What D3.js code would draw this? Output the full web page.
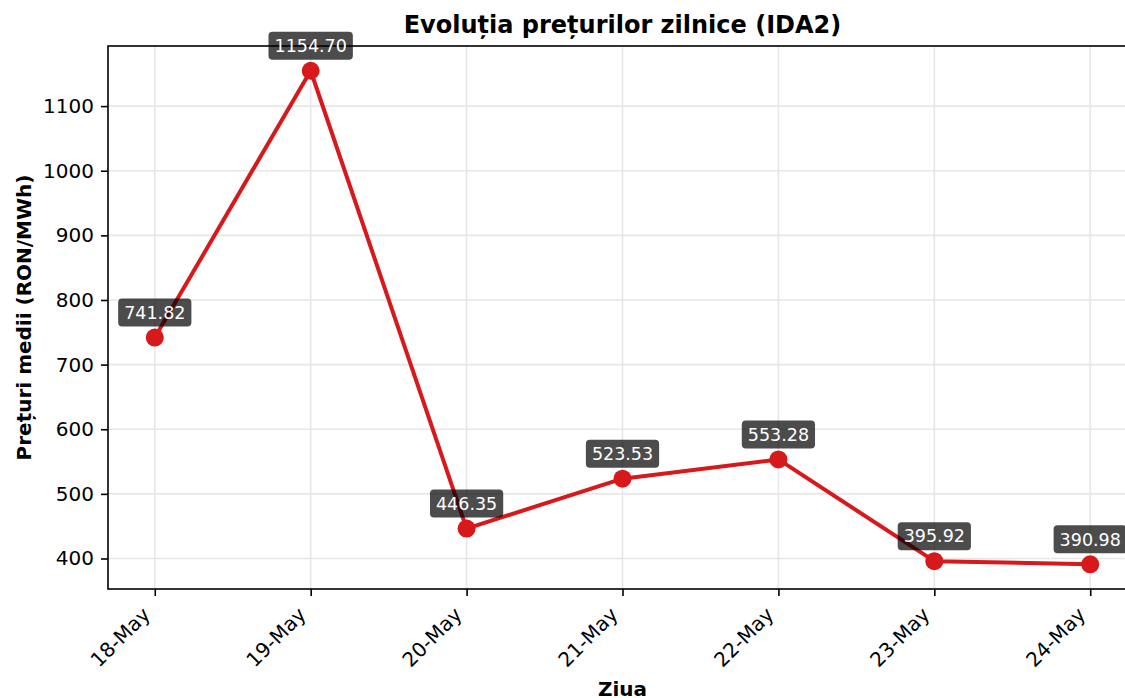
<!DOCTYPE html>
<html>
<head>
<meta charset="utf-8">
<script src="https://cdn.jsdelivr.net/npm/d3@7"></script>
<style>
    body { margin: 0; background: #fff; }
    svg { display: block; font-family: "DejaVu Sans", sans-serif; }
</style>
</head>
<body>
<svg id="chart" width="1125" height="698"></svg>
<script>
// data
var days = ["18-May", "19-May", "20-May", "21-May", "22-May", "23-May", "24-May"];
var prices = [741.82, 1154.70, 446.35, 523.53, 553.28, 395.92, 390.98];
var yTicks = [400, 500, 600, 700, 800, 900, 1000, 1100];

var svg = d3.select("#chart"),
    width = +svg.attr("width"),
    height = +svg.attr("height");

// plot box (right edge sits past the picture, like the reference crop)
var plotLeft = 108, plotRight = 1137, plotTop = 46, plotBottom = 589;

var x = d3.scaleLinear()
    .domain([-0.3, days.length - 1 + 0.3])
    .range([plotLeft, plotRight]);

var y = d3.scaleLinear()
    .domain([352.8, 1193])
    .range([plotBottom, plotTop]);

var red = "#d7191c";

// grid
svg.append("g")
    .selectAll("line")
    .data(yTicks)
    .enter()
    .append("line")
    .attr("x1", plotLeft).attr("x2", plotRight)
    .attr("y1", function (d) { return y(d) })
    .attr("y2", function (d) { return y(d) })
    .attr("stroke", "#e7e7e7")
    .attr("stroke-width", 1.6)

svg.append("g")
    .selectAll("line")
    .data(days)
    .enter()
    .append("line")
    .attr("x1", function (d, i) { return x(i) })
    .attr("x2", function (d, i) { return x(i) })
    .attr("y1", plotTop).attr("y2", plotBottom)
    .attr("stroke", "#e7e7e7")
    .attr("stroke-width", 1.6)

// axes
var yAxis = svg.append("g")
    .attr("transform", "translate(" + plotLeft + ",0)")
    .call(d3.axisLeft(y).tickValues(yTicks).tickSize(7).tickPadding(7).tickFormat(d3.format("d")))

var xAxis = svg.append("g")
    .attr("transform", "translate(0," + plotBottom + ")")
    .call(d3.axisBottom(x).tickValues(d3.range(days.length)).tickSize(7).tickFormat(function (i) { return days[i] }))

yAxis.select(".domain").remove()
xAxis.select(".domain").remove()
yAxis.attr("font-family", null).attr("font-size", null)
xAxis.attr("font-family", null).attr("font-size", null)

svg.selectAll(".tick line").attr("stroke", "#000").attr("stroke-width", 1.6)

yAxis.selectAll("text")
    .style("font-size", "20px")
    .attr("fill", "#000")

xAxis.selectAll("text")
    .style("font-size", "20px")
    .attr("fill", "#000")
    .attr("text-anchor", "end")
    .attr("dy", null)
    .attr("y", null)
    .attr("transform", "translate(-4,27) rotate(-45)")

// spines
svg.append("rect")
    .attr("x", plotLeft).attr("y", plotTop)
    .attr("width", plotRight - plotLeft).attr("height", plotBottom - plotTop)
    .attr("fill", "none")
    .attr("stroke", "#000")
    .attr("stroke-width", 1.6)

// line + markers
var line = d3.line()
    .x(function (d, i) { return x(i) })
    .y(function (d) { return y(d) })

svg.append("path")
    .datum(prices)
    .attr("d", line)
    .attr("fill", "none")
    .attr("stroke", red)
    .attr("stroke-width", 4)
    .attr("stroke-linejoin", "round")

svg.append("g")
    .selectAll("circle")
    .data(prices)
    .enter()
    .append("circle")
    .attr("cx", function (d, i) { return x(i) })
    .attr("cy", function (d) { return y(d) })
    .attr("r", 9)
    .attr("fill", red)

// value labels in dark boxes
var labels = svg.append("g")
    .selectAll("g")
    .data(prices)
    .enter()
    .append("g")
    .attr("transform", function (d, i) { return "translate(" + x(i) + "," + (y(d) - 25) + ")" })

labels.append("text")
    .text(function (d) { return d.toFixed(2) })
    .attr("text-anchor", "middle")
    .attr("dy", "0.36em")
    .attr("fill", "#fff")
    .style("font-size", "17.5px")
    .each(function () {
        var w = this.getComputedTextLength();
        d3.select(this.parentNode).insert("rect", "text")
            .attr("x", -w / 2 - 6)
            .attr("y", -14)
            .attr("width", w + 12)
            .attr("height", 28)
            .attr("rx", 4)
            .attr("fill", "#000")
            .attr("fill-opacity", 0.7)
    })

// titles
svg.append("text")
    .attr("x", (plotLeft + plotRight) / 2)
    .attr("y", 33)
    .attr("text-anchor", "middle")
    .style("font-size", "24px")
    .style("font-weight", "bold")
    .text("Evoluția prețurilor zilnice (IDA2)")

svg.append("text")
    .attr("x", (plotLeft + plotRight) / 2)
    .attr("y", 696)
    .attr("text-anchor", "middle")
    .style("font-size", "20px")
    .style("font-weight", "bold")
    .text("Ziua")

svg.append("text")
    .attr("transform", "translate(31," + ((plotTop + plotBottom) / 2) + ") rotate(-90)")
    .attr("text-anchor", "middle")
    .style("font-size", "20px")
    .style("font-weight", "bold")
    .text("Prețuri medii (RON/MWh)")
</script>
</body>
</html>
